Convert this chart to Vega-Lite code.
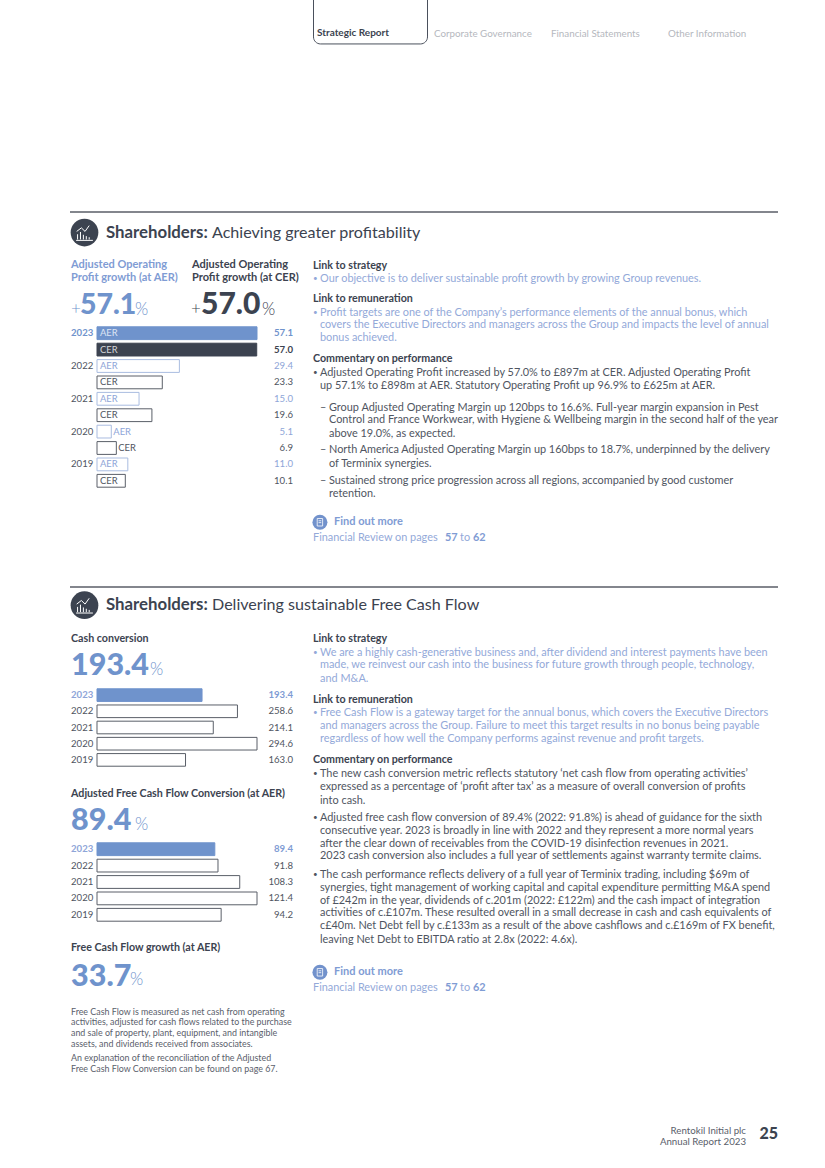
{"$schema":"https://vega.github.io/schema/vega-lite/v6.json","background":"white","padding":{"left":69,"top":0,"right":0,"bottom":0},"spacing":0,"config":{"view":{"stroke":null}},
"params":[
{"name":"kSize","value":{"tab":10,"nav":9.8,"hb":16.8,"hr":16.1,"head":10.7,"bluedot":8,"blue":10.9,"dot":8,"body":10.9,"dash":10.9,"sub":10.9,"find":11,"ref":10.9,"refb":10.9,"ref2":10.9,"refb2":10.9,"ha":11,"hc":11,"plusA":17,"plusC":17,"bigA":28.5,"bigC":30,"pctA":17,"pctC":17,"big":30.5,"pct193":17,"pct89":17,"pct33":17,"fine":8.9,"foot":9.7,"page":16}},
{"name":"kWeight","value":{"tab":700,"nav":400,"hb":700,"hr":400,"head":700,"bluedot":400,"blue":400,"dot":400,"body":400,"dash":400,"sub":400,"find":700,"ref":400,"refb":700,"ref2":400,"refb2":700,"ha":700,"hc":700,"plusA":300,"plusC":300,"bigA":900,"bigC":900,"pctA":300,"pctC":300,"big":900,"pct193":300,"pct89":300,"pct33":300,"fine":400,"foot":400,"page":900}},
{"name":"kDx","value":{"tab":4,"nav":4,"hb":36,"hr":142,"head":1,"bluedot":1,"blue":8,"dot":1,"body":8,"dash":8,"sub":17,"find":22,"ref":1,"refb":133,"ref2":148,"refb2":161,"ha":1,"hc":122,"plusA":1,"plusC":121,"bigA":10,"bigC":131,"pctA":65,"pctC":192,"big":1,"pct193":80,"pct89":65,"pct33":60,"fine":1,"foot":-32,"page":0}},
{"name":"kColor","value":{"tab":"#3c4350","nav":"#b5b8be","hb":"#3c4350","hr":"#3c4350","head":"#3c4350","bluedot":"#93a9d9","blue":"#93a9d9","dot":"#4f5561","body":"#4f5561","dash":"#4f5561","sub":"#4f5561","find":"#7f9cd4","ref":"#93a9d9","refb":"#7f9cd4","ref2":"#93a9d9","refb2":"#7f9cd4","ha":"#7f9cd4","hc":"#3c4350","plusA":"#6f93cc","plusC":"#3c4350","bigA":"#6f93cc","bigC":"#3c4350","pctA":"#6f93cc","pctC":"#3c4350","big":"#6f93cc","pct193":"#6f93cc","pct89":"#6f93cc","pct33":"#6f93cc","fine":"#5a606b","foot":"#5a606b","page":"#3c4350"}}
],
"datasets":{
"text":[
{"panel":"nav","kind":"tab","tab":"Strategic Report","line":2.55,"text":"Strategic Report"},
{"panel":"nav","kind":"nav","tab":"Corporate Governance","line":2.6,"text":"Corporate Governance"},
{"panel":"nav","kind":"nav","tab":"Financial Statements","line":2.6,"text":"Financial Statements"},
{"panel":"nav","kind":"nav","tab":"Other Information","line":2.6,"text":"Other Information"},
{"panel":"h1","kind":"hb","line":1.58,"text":"Shareholders:"},
{"panel":"h1","kind":"hr","line":1.58,"text":"Achieving greater profitability"},
{"panel":"h2","kind":"hb","line":1.4,"text":"Shareholders:"},
{"panel":"h2","kind":"hr","line":1.4,"text":"Delivering sustainable Free Cash Flow"},
{"panel":"l1","kind":"ha","line":0.48,"text":"Adjusted Operating"},
{"panel":"l1","kind":"ha","line":1.48,"text":"Profit growth (at AER)"},
{"panel":"l1","kind":"hc","line":0.48,"text":"Adjusted Operating"},
{"panel":"l1","kind":"hc","line":1.48,"text":"Profit growth (at CER)"},
{"panel":"l1","kind":"plusA","line":3.87,"text":"+"},
{"panel":"l1","kind":"bigA","line":3.54,"text":"57.1"},
{"panel":"l1","kind":"pctA","line":3.92,"text":"%"},
{"panel":"l1","kind":"plusC","line":3.87,"text":"+"},
{"panel":"l1","kind":"bigC","line":3.54,"text":"57.0"},
{"panel":"l1","kind":"pctC","line":3.92,"text":"%"},
{"panel":"r1","kind":"head","line":0.5,"text":"Link to strategy"},
{"panel":"r1","kind":"bluedot","line":1.5,"text":"•"},
{"panel":"r1","kind":"blue","line":1.5,"text":"Our objective is to deliver sustainable profit growth by growing Group revenues."},
{"panel":"r1","kind":"head","line":3.1,"text":"Link to remuneration"},
{"panel":"r1","kind":"bluedot","line":4.13,"text":"•"},
{"panel":"r1","kind":"blue","line":4.13,"text":"Profit targets are one of the Company’s performance elements of the annual bonus, which"},
{"panel":"r1","kind":"blue","line":5.1,"text":"covers the Executive Directors and managers across the Group and impacts the level of annual"},
{"panel":"r1","kind":"blue","line":6.1,"text":"bonus achieved."},
{"panel":"r1","kind":"head","line":7.72,"text":"Commentary on performance"},
{"panel":"r1","kind":"dot","line":8.79,"text":"•"},
{"panel":"r1","kind":"body","line":8.79,"text":"Adjusted Operating Profit increased by 57.0% to £897m at CER. Adjusted Operating Profit"},
{"panel":"r1","kind":"body","line":9.79,"text":"up 57.1% to £898m at AER. Statutory Operating Profit up 96.9% to £625m at AER."},
{"panel":"r1","kind":"dash","line":11.44,"text":"–"},
{"panel":"r1","kind":"sub","line":11.44,"text":"Group Adjusted Operating Margin up 120bps to 16.6%. Full-year margin expansion in Pest"},
{"panel":"r1","kind":"sub","line":12.41,"text":"Control and France Workwear, with Hygiene & Wellbeing margin in the second half of the year"},
{"panel":"r1","kind":"sub","line":13.44,"text":"above 19.0%, as expected."},
{"panel":"r1","kind":"dash","line":14.72,"text":"–"},
{"panel":"r1","kind":"sub","line":14.72,"text":"North America Adjusted Operating Margin up 160bps to 18.7%, underpinned by the delivery"},
{"panel":"r1","kind":"sub","line":15.79,"text":"of Terminix synergies."},
{"panel":"r1","kind":"dash","line":17.1,"text":"–"},
{"panel":"r1","kind":"sub","line":17.1,"text":"Sustained strong price progression across all regions, accompanied by good customer"},
{"panel":"r1","kind":"sub","line":18.1,"text":"retention."},
{"panel":"r1","kind":"find","line":20.25,"text":"Find out more"},
{"panel":"r1","kind":"ref","line":21.48,"text":"Financial Review on pages"},
{"panel":"r1","kind":"refb","line":21.48,"text":"57"},
{"panel":"r1","kind":"ref2","line":21.48,"text":"to"},
{"panel":"r1","kind":"refb2","line":21.48,"text":"62"},
{"panel":"la","kind":"head","line":0.48,"text":"Cash conversion"},
{"panel":"la","kind":"big","line":2.54,"text":"193.4"},
{"panel":"la","kind":"pct193","line":2.85,"text":"%"},
{"panel":"lb","kind":"head","line":2.02,"text":"Adjusted Free Cash Flow Conversion (at AER)"},
{"panel":"lb","kind":"big","line":4.08,"text":"89.4"},
{"panel":"lb","kind":"pct89","line":4.41,"text":"%"},
{"panel":"lc","kind":"head","line":1.96,"text":"Free Cash Flow growth (at AER)"},
{"panel":"lc","kind":"big","line":4.12,"text":"33.7"},
{"panel":"lc","kind":"pct33","line":4.4,"text":"%"},
{"panel":"lc","kind":"fine","line":6.81,"text":"Free Cash Flow is measured as net cash from operating"},
{"panel":"lc","kind":"fine","line":7.63,"text":"activities, adjusted for cash flows related to the purchase"},
{"panel":"lc","kind":"fine","line":8.45,"text":"and sale of property, plant, equipment, and intangible"},
{"panel":"lc","kind":"fine","line":9.29,"text":"assets, and dividends received from associates."},
{"panel":"lc","kind":"fine","line":10.4,"text":"An explanation of the reconciliation of the Adjusted"},
{"panel":"lc","kind":"fine","line":11.25,"text":"Free Cash Flow Conversion can be found on page 67."},
{"panel":"r2","kind":"head","line":0.48,"text":"Link to strategy"},
{"panel":"r2","kind":"bluedot","line":1.515,"text":"•"},
{"panel":"r2","kind":"blue","line":1.515,"text":"We are a highly cash-generative business and, after dividend and interest payments have been"},
{"panel":"r2","kind":"blue","line":2.49,"text":"made, we reinvest our cash into the business for future growth through people, technology,"},
{"panel":"r2","kind":"blue","line":3.56,"text":"and M&A."},
{"panel":"r2","kind":"head","line":5.18,"text":"Link to remuneration"},
{"panel":"r2","kind":"bluedot","line":6.18,"text":"•"},
{"panel":"r2","kind":"blue","line":6.18,"text":"Free Cash Flow is a gateway target for the annual bonus, which covers the Executive Directors"},
{"panel":"r2","kind":"blue","line":7.18,"text":"and managers across the Group. Failure to meet this target results in no bonus being payable"},
{"panel":"r2","kind":"blue","line":8.18,"text":"regardless of how well the Company performs against revenue and profit targets."},
{"panel":"r2","kind":"head","line":9.79,"text":"Commentary on performance"},
{"panel":"r2","kind":"dot","line":10.82,"text":"•"},
{"panel":"r2","kind":"body","line":10.82,"text":"The new cash conversion metric reflects statutory ‘net cash flow from operating activities’"},
{"panel":"r2","kind":"body","line":11.87,"text":"expressed as a percentage of ‘profit after tax’ as a measure of overall conversion of profits"},
{"panel":"r2","kind":"body","line":12.9,"text":"into cash."},
{"panel":"r2","kind":"dot","line":14.2,"text":"•"},
{"panel":"r2","kind":"body","line":14.2,"text":"Adjusted free cash flow conversion of 89.4% (2022: 91.8%) is ahead of guidance for the sixth"},
{"panel":"r2","kind":"body","line":15.2,"text":"consecutive year. 2023 is broadly in line with 2022 and they represent a more normal years"},
{"panel":"r2","kind":"body","line":16.2,"text":"after the clear down of receivables from the COVID-19 disinfection revenues in 2021."},
{"panel":"r2","kind":"body","line":17.18,"text":"2023 cash conversion also includes a full year of settlements against warranty termite claims."},
{"panel":"r2","kind":"dot","line":18.59,"text":"•"},
{"panel":"r2","kind":"body","line":18.59,"text":"The cash performance reflects delivery of a full year of Terminix trading, including $69m of"},
{"panel":"r2","kind":"body","line":19.59,"text":"synergies, tight management of working capital and capital expenditure permitting M&A spend"},
{"panel":"r2","kind":"body","line":20.59,"text":"of £242m in the year, dividends of c.201m (2022: £122m) and the cash impact of integration"},
{"panel":"r2","kind":"body","line":21.56,"text":"activities of c.£107m. These resulted overall in a small decrease in cash and cash equivalents of"},
{"panel":"r2","kind":"body","line":22.56,"text":"c£40m. Net Debt fell by c.£133m as a result of the above cashflows and c.£169m of FX benefit,"},
{"panel":"r2","kind":"body","line":23.59,"text":"leaving Net Debt to EBITDA ratio at 2.8x (2022: 4.6x)."},
{"panel":"r2","kind":"find","line":26.1,"text":"Find out more"},
{"panel":"r2","kind":"ref","line":27.28,"text":"Financial Review on pages"},
{"panel":"r2","kind":"refb","line":27.28,"text":"57"},
{"panel":"r2","kind":"ref2","line":27.28,"text":"to"},
{"panel":"r2","kind":"refb2","line":27.28,"text":"62"},
{"panel":"foot","kind":"foot","line":2.15,"text":"Rentokil Initial plc"},
{"panel":"foot","kind":"foot","line":3,"text":"Annual Report 2023"},
{"panel":"foot","kind":"page","line":2.38,"text":"25"}
],
"profit":[
{"row":"2023 AER","year":2023,"series":"AER","value":57.1},
{"row":"2023 CER","year":2023,"series":"CER","value":57.0},
{"row":"2022 AER","year":2022,"series":"AER","value":29.4},
{"row":"2022 CER","year":2022,"series":"CER","value":23.3},
{"row":"2021 AER","year":2021,"series":"AER","value":15.0},
{"row":"2021 CER","year":2021,"series":"CER","value":19.6},
{"row":"2020 AER","year":2020,"series":"AER","value":5.1},
{"row":"2020 CER","year":2020,"series":"CER","value":6.9},
{"row":"2019 AER","year":2019,"series":"AER","value":11.0},
{"row":"2019 CER","year":2019,"series":"CER","value":10.1}
],
"cash":[{"year":2023,"value":193.4},{"year":2022,"value":258.6},{"year":2021,"value":214.1},{"year":2020,"value":294.6},{"year":2019,"value":163.0}],
"fcf":[{"year":2023,"value":89.4},{"year":2022,"value":91.8},{"year":2021,"value":108.3},{"year":2020,"value":121.4},{"year":2019,"value":94.2}]
},
"vconcat":[
{"width":708,"height":211,"data":{"name":"text"},"transform":[{"filter":"datum.panel==='nav'"}],
 "encoding":{"y":{"field":"line","type":"quantitative","axis":null,"scale":{"domain":[0,16.231],"reverse":true}}},
 "layer":[
 {"transform":[{"filter":"datum.kind==='tab'"}],"mark":{"type":"bar","clip":true,"width":114,"xOffset":-1,"fill":"white","stroke":"#4a505c","strokeWidth":1,"cornerRadiusBottomLeft":7,"cornerRadiusBottomRight":7},
  "encoding":{"x":{"field":"tab","type":"nominal","sort":null,"axis":null,"scale":{"domain":["Strategic Report","Corporate Governance","Financial Statements","Other Information"],"range":[243,711],"padding":0}},"y":{"datum":-1,"type":"quantitative"},"y2":{"datum":3.38}}},
 {"mark":{"type":"text","font":"Lato","align":"left","baseline":"middle","fontSize":{"expr":"kSize[datum.kind]"},"fontWeight":{"expr":"kWeight[datum.kind]"},"dx":{"expr":"kDx[datum.kind]"},"color":{"expr":"kColor[datum.kind]"}},
  "encoding":{"x":{"field":"tab","type":"nominal","bandPosition":0,"sort":null,"axis":null,"scale":{"domain":["Strategic Report","Corporate Governance","Financial Statements","Other Information"],"range":[243,711],"padding":0}},"text":{"field":"text"}}}
 ]},
{"width":708,"height":47,"data":{"name":"text"},"transform":[{"filter":"datum.panel==='h1'"}],
 "encoding":{"y":{"field":"line","type":"quantitative","axis":null,"scale":{"domain":[0,3.615],"reverse":true}}},
 "layer":[
 {"mark":{"type":"rule","color":"#5a5f68","strokeWidth":1.1},"encoding":{"y":{"datum":0,"type":"quantitative"}}},
 {"transform":[{"filter":"datum.kind==='hb'"}],"mark":{"type":"point","filled":true,"color":"#3c4350","size":767,"opacity":1,"shape":"circle"},"encoding":{"x":{"datum":14.5,"type":"quantitative","axis":null,"scale":{"domain":[0,708]}}}},
 {"transform":[{"filter":"datum.kind==='hb'"}],"mark":{"type":"point","filled":false,"stroke":"white","strokeWidth":1,"opacity":1,"size":500,"shape":"M-.62,.62V.15M-.36,.62V-.05M-.1,.62V.2M.16,.62V.32M.42,.62V.42M-.75,.7H.75M-.7,-.1L-.28,-.42L.05,-.1L.42,-.62"},"encoding":{"x":{"datum":14.5,"type":"quantitative","axis":null,"scale":{"domain":[0,708]}}}},
 {"mark":{"type":"text","font":"Lato","align":"left","baseline":"middle","fontSize":{"expr":"kSize[datum.kind]"},"fontWeight":{"expr":"kWeight[datum.kind]"},"dx":{"expr":"kDx[datum.kind]"},"color":{"expr":"kColor[datum.kind]"}},
  "encoding":{"x":{"datum":0,"type":"quantitative","axis":null,"scale":{"domain":[0,708]}},"text":{"field":"text"}}}
 ]},
{"spacing":10,"hconcat":[
 {"spacing":0,"vconcat":[
  {"width":232,"height":66,"data":{"name":"text"},"transform":[{"filter":"datum.panel==='l1'"}],
   "mark":{"type":"text","font":"Lato","align":"left","baseline":"middle","fontSize":{"expr":"kSize[datum.kind]"},"fontWeight":{"expr":"kWeight[datum.kind]"},"dx":{"expr":"kDx[datum.kind]"},"color":{"expr":"kColor[datum.kind]"}},
   "encoding":{"x":{"datum":0,"type":"quantitative","axis":null,"scale":{"domain":[0,225]}},"y":{"field":"line","type":"quantitative","axis":null,"scale":{"domain":[0,5.077],"reverse":true}},"text":{"field":"text"}}},
  {"width":232,"height":164,"data":{"name":"profit"},
   "encoding":{"y":{"field":"row","type":"ordinal","sort":null,"axis":null,"scale":{"paddingInner":0.22,"paddingOuter":0.11}}},
   "layer":[
   {"mark":{"type":"bar","strokeWidth":1},"encoding":{"x":{"field":"value","type":"quantitative","axis":null,"scale":{"domain":[0,57.1],"range":[27,187],"nice":false}},"fill":{"condition":[{"test":"datum.year===2023&&datum.series==='AER'","value":"#6f93cc"},{"test":"datum.year===2023","value":"#3c4350"}],"value":"white"},"stroke":{"condition":[{"test":"datum.year===2023&&datum.series==='AER'","value":"#6f93cc"},{"test":"datum.year===2023","value":"#3c4350"},{"test":"datum.series==='AER'","value":"#a9bce0"}],"value":"#5a5f68"}}},
   {"transform":[{"filter":"datum.year!==2020"}],"mark":{"type":"text","font":"Lato","fontSize":9.4,"align":"left","baseline":"middle","dx":3,"color":{"expr":"datum.year===2023?(datum.series==='AER'?'#dde5f4':'#d4d6da'):(datum.series==='AER'?'#8ea5d8':'#4f5561')"}},"encoding":{"x":{"datum":0,"type":"quantitative"},"text":{"field":"series"}}},
   {"transform":[{"filter":"datum.year===2020"}],"mark":{"type":"text","font":"Lato","fontSize":9.4,"align":"left","baseline":"middle","dx":2,"color":{"expr":"datum.series==='AER'?'#8ea5d8':'#4f5561'"}},"encoding":{"x":{"field":"value","type":"quantitative"},"text":{"field":"series"}}},
   {"transform":[{"filter":"datum.series==='AER'"}],"mark":{"type":"text","font":"Lato","fontSize":9.6,"align":"left","baseline":"middle","dx":-26,"fontWeight":{"expr":"datum.year===2023?700:400"},"color":{"expr":"datum.year===2023?'#6f93cc':'#4f5561'"}},"encoding":{"x":{"datum":0,"type":"quantitative"},"text":{"field":"year","type":"ordinal"}}},
   {"mark":{"type":"text","font":"Lato","fontSize":9.6,"align":"right","baseline":"middle","fontWeight":{"expr":"datum.year===2023?700:400"},"color":{"expr":"datum.year===2023?(datum.series==='AER'?'#6f93cc':'#3c4350'):(datum.series==='AER'?'#8ea5d8':'#4f5561')"}},"encoding":{"x":{"datum":69.95,"type":"quantitative"},"text":{"field":"value","type":"quantitative","format":".1f"}}}
   ]}
 ]},
 {"width":466,"height":326.5,"data":{"name":"text"},"transform":[{"filter":"datum.panel==='r1'"}],
  "encoding":{"y":{"field":"line","type":"quantitative","axis":null,"scale":{"domain":[0,25.115],"reverse":true}}},
  "layer":[
  {"mark":{"type":"text","font":"Lato","align":"left","baseline":"middle","fontSize":{"expr":"kSize[datum.kind]"},"fontWeight":{"expr":"kWeight[datum.kind]"},"dx":{"expr":"kDx[datum.kind]"},"color":{"expr":"kColor[datum.kind]"}},
   "encoding":{"x":{"datum":0,"type":"quantitative","axis":null,"scale":{"domain":[0,466]}},"text":{"field":"text"}}},
  {"transform":[{"filter":"datum.kind==='find'"}],"mark":{"type":"point","filled":true,"opacity":1,"color":"#7292cc","size":225,"shape":"circle"},"encoding":{"x":{"datum":8.5,"type":"quantitative"}}},
  {"transform":[{"filter":"datum.kind==='find'"}],"mark":{"type":"point","filled":false,"opacity":1,"stroke":"white","strokeWidth":0.8,"size":225,"shape":"M-.36,-.5H.36V.5H-.36ZM-.18,-.2H.18M-.18,.05H.18"},"encoding":{"x":{"datum":8.5,"type":"quantitative"}}}
  ]}
]},
{"width":708,"height":46,"data":{"name":"text"},"transform":[{"filter":"datum.panel==='h2'"}],
 "encoding":{"y":{"field":"line","type":"quantitative","axis":null,"scale":{"domain":[0,3.538],"reverse":true}}},
 "layer":[
 {"mark":{"type":"rule","color":"#5a5f68","strokeWidth":1.1},"encoding":{"y":{"datum":0,"type":"quantitative"}}},
 {"transform":[{"filter":"datum.kind==='hb'"}],"mark":{"type":"point","filled":true,"color":"#3c4350","size":767,"opacity":1,"shape":"circle"},"encoding":{"x":{"datum":14.5,"type":"quantitative","axis":null,"scale":{"domain":[0,708]}}}},
 {"transform":[{"filter":"datum.kind==='hb'"}],"mark":{"type":"point","filled":false,"stroke":"white","strokeWidth":1,"opacity":1,"size":500,"shape":"M-.62,.62V.15M-.36,.62V-.05M-.1,.62V.2M.16,.62V.32M.42,.62V.42M-.75,.7H.75M-.7,-.1L-.28,-.42L.05,-.1L.42,-.62"},"encoding":{"x":{"datum":14.5,"type":"quantitative","axis":null,"scale":{"domain":[0,708]}}}},
 {"mark":{"type":"text","font":"Lato","align":"left","baseline":"middle","fontSize":{"expr":"kSize[datum.kind]"},"fontWeight":{"expr":"kWeight[datum.kind]"},"dx":{"expr":"kDx[datum.kind]"},"color":{"expr":"kColor[datum.kind]"}},
  "encoding":{"x":{"datum":0,"type":"quantitative","axis":null,"scale":{"domain":[0,708]}},"text":{"field":"text"}}}
 ]},
{"spacing":17,"hconcat":[
 {"spacing":0,"vconcat":[
  {"width":225,"height":54,"data":{"name":"text"},"transform":[{"filter":"datum.panel==='la'"}],
   "mark":{"type":"text","font":"Lato","align":"left","baseline":"middle","fontSize":{"expr":"kSize[datum.kind]"},"fontWeight":{"expr":"kWeight[datum.kind]"},"dx":{"expr":"kDx[datum.kind]"},"color":{"expr":"kColor[datum.kind]"}},
   "encoding":{"x":{"datum":0,"type":"quantitative","axis":null,"scale":{"domain":[0,225]}},"y":{"field":"line","type":"quantitative","axis":null,"scale":{"domain":[0,4.154],"reverse":true}},"text":{"field":"text"}}},
  {"width":225,"height":81,"data":{"name":"cash"},
   "encoding":{"y":{"field":"year","type":"ordinal","sort":null,"axis":null,"scale":{"paddingInner":0.22,"paddingOuter":0.11}}},
   "layer":[
   {"mark":{"type":"bar","strokeWidth":1},"encoding":{"x":{"field":"value","type":"quantitative","axis":null,"scale":{"domain":[0,294.6],"range":[27,187],"nice":false}},"fill":{"condition":{"test":"datum.year===2023","value":"#6f93cc"},"value":"white"},"stroke":{"condition":{"test":"datum.year===2023","value":"#6f93cc"},"value":"#5a5f68"}}},
   {"mark":{"type":"text","font":"Lato","fontSize":9.6,"align":"left","baseline":"middle","dx":-26,"fontWeight":{"expr":"datum.year===2023?700:400"},"color":{"expr":"datum.year===2023?'#8ea5d8':'#4f5561'"}},"encoding":{"x":{"datum":0,"type":"quantitative"},"text":{"field":"year","type":"ordinal"}}},
   {"mark":{"type":"text","font":"Lato","fontSize":9.6,"align":"right","baseline":"middle","fontWeight":{"expr":"datum.year===2023?700:400"},"color":{"expr":"datum.year===2023?'#7f9cd4':'#4f5561'"}},"encoding":{"x":{"datum":360.9,"type":"quantitative"},"text":{"field":"value","type":"quantitative","format":".1f"}}}
   ]},
  {"width":225,"height":72.5,"data":{"name":"text"},"transform":[{"filter":"datum.panel==='lb'"}],
   "mark":{"type":"text","font":"Lato","align":"left","baseline":"middle","fontSize":{"expr":"kSize[datum.kind]"},"fontWeight":{"expr":"kWeight[datum.kind]"},"dx":{"expr":"kDx[datum.kind]"},"color":{"expr":"kColor[datum.kind]"}},
   "encoding":{"x":{"datum":0,"type":"quantitative","axis":null,"scale":{"domain":[0,225]}},"y":{"field":"line","type":"quantitative","axis":null,"scale":{"domain":[0,5.577],"reverse":true}},"text":{"field":"text"}}},
  {"width":225,"height":82,"data":{"name":"fcf"},
   "encoding":{"y":{"field":"year","type":"ordinal","sort":null,"axis":null,"scale":{"paddingInner":0.22,"paddingOuter":0.11}}},
   "layer":[
   {"mark":{"type":"bar","strokeWidth":1},"encoding":{"x":{"field":"value","type":"quantitative","axis":null,"scale":{"domain":[0,121.4],"range":[27,187],"nice":false}},"fill":{"condition":{"test":"datum.year===2023","value":"#6f93cc"},"value":"white"},"stroke":{"condition":{"test":"datum.year===2023","value":"#6f93cc"},"value":"#5a5f68"}}},
   {"mark":{"type":"text","font":"Lato","fontSize":9.6,"align":"left","baseline":"middle","dx":-26,"fontWeight":{"expr":"datum.year===2023?700:400"},"color":{"expr":"datum.year===2023?'#8ea5d8':'#4f5561'"}},"encoding":{"x":{"datum":0,"type":"quantitative"},"text":{"field":"year","type":"ordinal"}}},
   {"mark":{"type":"text","font":"Lato","fontSize":9.6,"align":"right","baseline":"middle","fontWeight":{"expr":"datum.year===2023?700:400"},"color":{"expr":"datum.year===2023?'#7f9cd4':'#4f5561'"}},"encoding":{"x":{"datum":148.7,"type":"quantitative"},"text":{"field":"value","type":"quantitative","format":".1f"}}}
   ]},
  {"width":225,"height":179.5,"data":{"name":"text"},"transform":[{"filter":"datum.panel==='lc'"}],
   "mark":{"type":"text","font":"Lato","align":"left","baseline":"middle","fontSize":{"expr":"kSize[datum.kind]"},"fontWeight":{"expr":"kWeight[datum.kind]"},"dx":{"expr":"kDx[datum.kind]"},"color":{"expr":"kColor[datum.kind]"}},
   "encoding":{"x":{"datum":0,"type":"quantitative","axis":null,"scale":{"domain":[0,225]}},"y":{"field":"line","type":"quantitative","axis":null,"scale":{"domain":[0,13.808],"reverse":true}},"text":{"field":"text"}}}
 ]},
 {"width":466,"height":469,"data":{"name":"text"},"transform":[{"filter":"datum.panel==='r2'"}],
  "encoding":{"y":{"field":"line","type":"quantitative","axis":null,"scale":{"domain":[0,36.077],"reverse":true}}},
  "layer":[
  {"mark":{"type":"text","font":"Lato","align":"left","baseline":"middle","fontSize":{"expr":"kSize[datum.kind]"},"fontWeight":{"expr":"kWeight[datum.kind]"},"dx":{"expr":"kDx[datum.kind]"},"color":{"expr":"kColor[datum.kind]"}},
   "encoding":{"x":{"datum":0,"type":"quantitative","axis":null,"scale":{"domain":[0,466]}},"text":{"field":"text"}}},
  {"transform":[{"filter":"datum.kind==='find'"}],"mark":{"type":"point","filled":true,"opacity":1,"color":"#7292cc","size":225,"shape":"circle"},"encoding":{"x":{"datum":8.5,"type":"quantitative"}}},
  {"transform":[{"filter":"datum.kind==='find'"}],"mark":{"type":"point","filled":false,"opacity":1,"stroke":"white","strokeWidth":0.8,"size":225,"shape":"M-.36,-.5H.36V.5H-.36ZM-.18,-.2H.18M-.18,.05H.18"},"encoding":{"x":{"datum":8.5,"type":"quantitative"}}}
  ]}
]},
{"width":708,"height":68,"data":{"name":"text"},"transform":[{"filter":"datum.panel==='foot'"}],
 "mark":{"type":"text","font":"Lato","align":"right","baseline":"middle","fontSize":{"expr":"kSize[datum.kind]"},"fontWeight":{"expr":"kWeight[datum.kind]"},"dx":{"expr":"kDx[datum.kind]"},"color":{"expr":"kColor[datum.kind]"}},
 "encoding":{"x":{"datum":708,"type":"quantitative","axis":null,"scale":{"domain":[0,708]}},"y":{"field":"line","type":"quantitative","axis":null,"scale":{"domain":[0,5.231],"reverse":true}},"text":{"field":"text"}}}
]}
